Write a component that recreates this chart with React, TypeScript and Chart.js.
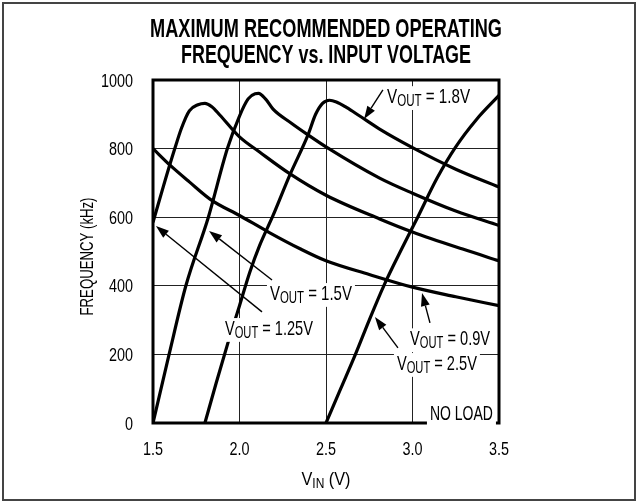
import React, { useEffect, useRef } from 'react';
import { Chart, registerables } from 'chart.js';

Chart.register(...registerables);

// ---- tick labels ----
const X_TICK_VALUES = [1.5, 2.0, 2.5, 3.0, 3.5];
const X_TICK_LABELS = ['1.5', '2.0', '2.5', '3.0', '3.5'];
const Y_TICK_VALUES = [0, 200, 400, 600, 800, 1000];
const Y_TICK_LABELS = ['0', '200', '400', '600', '800', '1000'];

// ---- series (VIN in V, frequency in kHz) ----
const VIN_09 = [1.5, 1.6, 1.71, 1.84, 2.0, 2.17, 2.35, 2.5, 2.75, 3.0, 3.25, 3.5];
const FREQ_09 = [800, 751, 703, 649, 605, 556, 508, 473, 433, 396, 368, 342];

const VIN_125 = [1.5, 1.56, 1.626, 1.665, 1.71, 1.76, 1.8, 1.84, 1.886, 2.0, 2.116, 2.29, 2.5, 2.81, 3.0, 3.29, 3.5];
const FREQ_125 = [585, 690, 800, 860, 910, 928, 932, 922, 898, 834, 790, 727, 664, 595, 557, 507, 473];

const VIN_15 = [1.5, 1.593, 1.69, 1.82, 1.93, 2.0, 2.05, 2.09, 2.11, 2.15, 2.194, 2.3, 2.396, 2.5, 2.81, 3.0, 3.25, 3.5];
const FREQ_15 = [0, 200, 400, 600, 800, 895, 945, 960, 961, 945, 915, 874, 840, 805, 714, 670, 618, 576];

const VIN_18 = [1.8, 1.866, 1.934, 2.0, 2.059, 2.116, 2.194, 2.29, 2.396, 2.44, 2.48, 2.52, 2.56, 2.618, 2.695, 2.81, 3.0, 3.25, 3.5];
const FREQ_18 = [0, 118, 235, 342, 439, 517, 605, 722, 840, 900, 932, 941, 936, 920, 895, 857, 803, 740, 688];

const VIN_25 = [2.5, 2.585, 2.67, 2.75, 2.834, 2.94, 3.03, 3.14, 3.25, 3.37, 3.5];
const FREQ_25 = [0, 100, 200, 300, 400, 510, 600, 712, 805, 885, 955];

const SERIES_NAMES = ['VOUT = 0.9V', 'VOUT = 1.25V', 'VOUT = 1.5V', 'VOUT = 1.8V', 'VOUT = 2.5V'];

const FONT = '"Liberation Sans", Arial, Helvetica, sans-serif';

type Part = { t: string; sub?: boolean };

function drawRich(
  ctx: CanvasRenderingContext2D,
  parts: Part[],
  x: number,
  baseline: number,
  align: 'left' | 'right' | 'center',
  fit: { width?: number; sx?: number },
  mainSize: number,
  subSize: number,
  bold: boolean,
  bg: boolean
) {
  const w = bold ? 'bold ' : '';
  const fMain = `${w}${mainSize}px ${FONT}`;
  const fSub = `${w}${subSize}px ${FONT}`;
  let natural = 0;
  const widths: number[] = [];
  for (const p of parts) {
    ctx.font = p.sub ? fSub : fMain;
    const m = ctx.measureText(p.t).width;
    widths.push(m);
    natural += m;
  }
  const sx = fit.width ? fit.width / natural : fit.sx ?? 1;
  const total = natural * sx;
  let left = x;
  if (align === 'right') left = x - total;
  else if (align === 'center') left = x - total / 2;
  if (bg) {
    ctx.save();
    ctx.fillStyle = '#fff';
    ctx.fillRect(left - 3, baseline - mainSize * 0.8, total + 6, mainSize * 0.8 + 7);
    ctx.restore();
  }
  ctx.save();
  ctx.translate(left, baseline);
  ctx.scale(sx, 1);
  ctx.fillStyle = '#000';
  ctx.textBaseline = 'alphabetic';
  ctx.textAlign = 'left';
  let cx = 0;
  parts.forEach((p, i) => {
    ctx.font = p.sub ? fSub : fMain;
    ctx.fillText(p.t, cx, p.sub ? 3 : 0);
    cx += widths[i];
  });
  ctx.restore();
}

function arrow(ctx: CanvasRenderingContext2D, x0: number, y0: number, x1: number, y1: number) {
  const ang = Math.atan2(y1 - y0, x1 - x0);
  const len = 13;
  const hw = 4.5;
  const bx = x1 - Math.cos(ang) * len;
  const by = y1 - Math.sin(ang) * len;
  ctx.save();
  ctx.strokeStyle = '#000';
  ctx.fillStyle = '#000';
  ctx.lineWidth = 1.4;
  ctx.beginPath();
  ctx.moveTo(x0, y0);
  ctx.lineTo(bx, by);
  ctx.stroke();
  ctx.beginPath();
  ctx.moveTo(x1, y1);
  ctx.lineTo(bx + Math.sin(ang) * hw, by - Math.cos(ang) * hw);
  ctx.lineTo(bx - Math.sin(ang) * hw, by + Math.cos(ang) * hw);
  ctx.closePath();
  ctx.fill();
  ctx.restore();
}

const TICK_SX = 0.8;

const decorPlugin = {
  id: 'decor',
  afterDatasetsDraw(chart: any) {
    const { ctx, chartArea: a, scales } = chart;
    const xs = scales.x;
    const ys = scales.y;
    const px = (v: number) => xs.getPixelForValue(v);
    const py = (v: number) => ys.getPixelForValue(v);

    // plot frame
    ctx.save();
    ctx.strokeStyle = '#000';
    ctx.lineWidth = 3;
    ctx.strokeRect(a.left, a.top, a.right - a.left, a.bottom - a.top);
    ctx.restore();

    // curve labels (data coordinates)
    const labels = [
      { v: '1.8V', x: 2.853, y: 933, w: 83, from: [2.829, 971], to: [2.72, 886] },
      { v: '1.5V', x: 2.176, y: 359, w: 82, from: [2.188, 417], to: [1.824, 560] },
      { v: '1.25V', x: 1.916, y: 257, w: 88, from: [2.13, 324], to: [1.517, 574] },
      { v: '0.9V', x: 2.986, y: 227, w: 80, from: [3.101, 292], to: [3.055, 379] },
      { v: '2.5V', x: 2.91, y: 155, w: 80, from: [2.916, 219], to: [2.783, 309] },
    ];
    for (const l of labels) {
      arrow(ctx, px(l.from[0]), py(l.from[1]), px(l.to[0]), py(l.to[1]));
    }
    for (const l of labels) {
      drawRich(
        ctx,
        [{ t: 'V' }, { t: 'OUT', sub: true }, { t: ' = ' + l.v }],
        px(l.x),
        py(l.y),
        'left',
        { width: l.w },
        21,
        16,
        false,
        true
      );
    }
    drawRich(ctx, [{ t: 'NO LOAD' }], px(3.465), py(9), 'right', { width: 63 }, 21, 16, false, true);

    // tick labels
    Y_TICK_VALUES.forEach((v, i) => {
      drawRich(ctx, [{ t: Y_TICK_LABELS[i] }], a.left - 20, py(v) + 6.5, 'right', { sx: TICK_SX }, 18, 14, false, false);
    });
    X_TICK_VALUES.forEach((v, i) => {
      drawRich(ctx, [{ t: X_TICK_LABELS[i] }], px(v), 455, 'center', { sx: TICK_SX }, 18, 14, false, false);
    });
  },
  afterDraw(chart: any) {
    const { ctx, chartArea: a, width, height } = chart;
    const cx = (a.left + a.right) / 2;
    // outer frame
    ctx.save();
    ctx.strokeStyle = '#444';
    ctx.lineWidth = 2;
    ctx.strokeRect(3, 3, width - 6, height - 5);
    ctx.restore();

    // title
    drawRich(ctx, [{ t: 'MAXIMUM RECOMMENDED OPERATING' }], cx, 37, 'center', { width: 352 }, 25, 18, true, false);
    drawRich(ctx, [{ t: 'FREQUENCY vs. INPUT VOLTAGE' }], cx, 63, 'center', { width: 290 }, 25, 18, true, false);

    // x axis title
    drawRich(ctx, [{ t: 'V' }, { t: 'IN', sub: true }, { t: ' (V)' }], cx, 485, 'center', { width: 49 }, 19, 14, false, false);

    // y axis title
    ctx.save();
    ctx.translate(93, (a.top + a.bottom) / 2 + 5);
    ctx.rotate(-Math.PI / 2);
    drawRich(ctx, [{ t: 'FREQUENCY (kHz)' }], 0, 0, 'center', { width: 118 }, 18, 14, false, false);
    ctx.restore();
  },
};

export default function App() {
  const ref = useRef<HTMLCanvasElement | null>(null);
  useEffect(() => {
    if (!ref.current) return;
    const mk = (vs: number[], fs: number[], name: string) => ({
      label: name,
      data: vs.map((v, i) => ({ x: v, y: fs[i] })),
      showLine: true,
      borderColor: '#000',
      backgroundColor: '#000',
      borderWidth: 3.2,
      pointRadius: 0,
      pointHoverRadius: 0,
      cubicInterpolationMode: 'monotone' as const,
      fill: false,
    });
    const chart = new Chart(ref.current, {
      type: 'scatter',
      data: {
        datasets: [
          mk(VIN_09, FREQ_09, SERIES_NAMES[0]),
          mk(VIN_125, FREQ_125, SERIES_NAMES[1]),
          mk(VIN_15, FREQ_15, SERIES_NAMES[2]),
          mk(VIN_18, FREQ_18, SERIES_NAMES[3]),
          mk(VIN_25, FREQ_25, SERIES_NAMES[4]),
        ],
      },
      options: {
        animation: false,
        responsive: false,
        devicePixelRatio: 1,
        events: [],
        layout: { padding: { top: 80, right: 139, bottom: 0, left: 0 } },
        plugins: { legend: { display: false }, tooltip: { enabled: false }, title: { display: false } },
        scales: {
          x: {
            type: 'linear',
            min: 1.5,
            max: 3.5,
            afterBuildTicks: (s: any) => {
              s.ticks = X_TICK_VALUES.map((v) => ({ value: v }));
            },
            afterFit: (s: any) => {
              s.height = 79;
            },
            ticks: { display: false },
            grid: { color: '#222', lineWidth: 1, drawTicks: false },
            border: { display: false },
          },
          y: {
            type: 'linear',
            min: 0,
            max: 1000,
            afterBuildTicks: (s: any) => {
              s.ticks = Y_TICK_VALUES.map((v) => ({ value: v }));
            },
            afterFit: (s: any) => {
              s.width = 153;
            },
            ticks: { display: false },
            grid: { color: '#222', lineWidth: 1, drawTicks: false },
            border: { display: false },
          },
        },
      },
      plugins: [decorPlugin],
    });
    return () => chart.destroy();
  }, []);
  return (
    <div style={{ position: 'absolute', left: 0, top: 0, width: 638, height: 502, background: '#fff' }}>
      <canvas ref={ref} width={638} height={502} style={{ display: 'block' }} />
    </div>
  );
}
